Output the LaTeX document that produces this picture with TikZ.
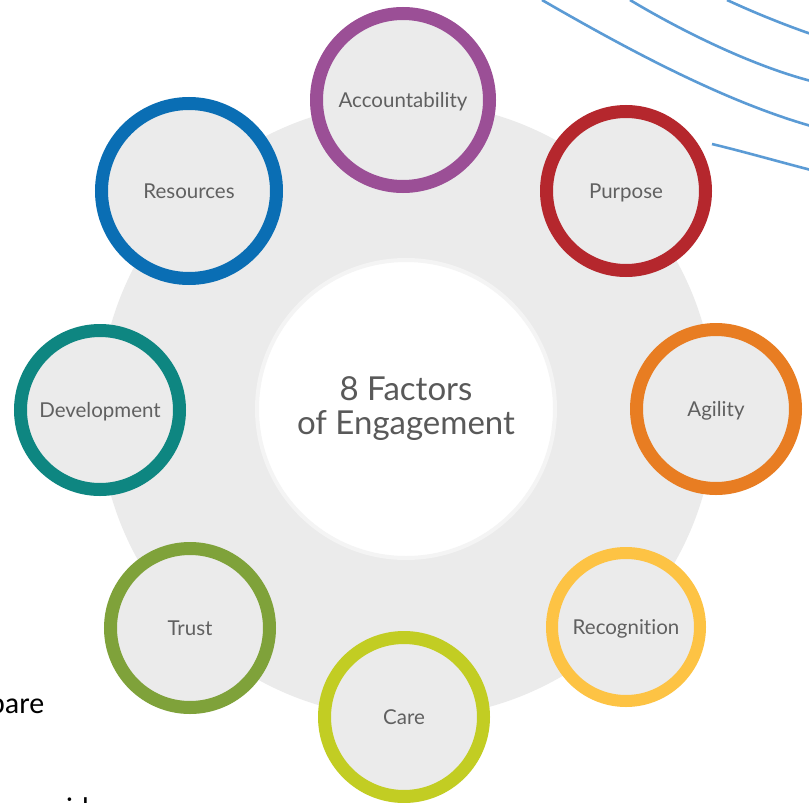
\documentclass[tikz,border=0pt]{standalone}
\usepackage{fontspec}
\newfontfamily\lato{Lato}[Ligatures=NoCommon]
\newfontfamily\carl{Carlito}
\newcommand\ringlbl[1]{\raisebox{-7.5pt}[0pt][0pt]{#1}}
\definecolor{discgrey}{HTML}{EBEBEB}
\definecolor{rimgrey}{HTML}{F4F4F4}
\definecolor{labelgrey}{HTML}{606060}
\definecolor{titlegrey}{HTML}{595959}
\definecolor{accpurple}{HTML}{9B4F96}
\definecolor{purred}{HTML}{B5272D}
\definecolor{agiorange}{HTML}{E87D22}
\definecolor{recyellow}{HTML}{FDC344}
\definecolor{carelime}{HTML}{C2CD23}
\definecolor{trustgreen}{HTML}{7FA23A}
\definecolor{devteal}{HTML}{0E8681}
\definecolor{resblue}{HTML}{0A6EB4}
\definecolor{lineblue}{HTML}{5B9BD5}
\tikzset{
  ring/.style={circle, line width=13pt, fill=discgrey, inner sep=0pt,
    font=\lato\fontsize{20.5}{24}\selectfont, text=labelgrey},
  bluearc/.style={draw=lineblue, line width=2.6pt},
  bodytext/.style={font=\carl\fontsize{30}{36}\selectfont, text=black, inner sep=0pt, anchor=base west}
}
\begin{document}
\begin{tikzpicture}[x=1pt,y=-1pt]
\useasboundingbox (0,0) rectangle (809,803);
\clip (0,0) rectangle (809,803);
\fill[white] (0,0) rectangle (809,803);
% big disc
\node[circle, fill=discgrey, minimum size=616pt, inner sep=0pt] (disc) at (407,410) {};
% centre
\node[circle, fill=white, draw=rimgrey, line width=4pt, minimum size=298pt, inner sep=0pt,
  align=center, font=\lato\fontsize{33}{34}\selectfont, text=titlegrey] (centre) at (406,409)
  {8 Factors\\of Engagement};
% rings
\node[ring, draw=accpurple, minimum size=173pt] (acc) at (403,100) {\ringlbl{Accountability}};
\node[ring, draw=purred, minimum size=159pt] (pur) at (626,191) {\ringlbl{Purpose}};
\node[ring, draw=agiorange, minimum size=159pt] (agi) at (716,409) {\ringlbl{Agility}};
\node[ring, draw=recyellow, line width=12pt, minimum size=148pt] (rec) at (626,627) {\ringlbl{Recognition}};
\node[ring, draw=carelime, minimum size=159pt] (care) at (404,717) {\ringlbl{Care}};
\node[ring, draw=trustgreen, minimum size=159pt] (trust) at (190,628) {\ringlbl{Trust}};
\node[ring, draw=devteal, minimum size=159pt] (dev) at (100,410) {\ringlbl{Development}};
\node[ring, draw=resblue, minimum size=175pt] (res) at (189,191) {\ringlbl{Resources}};
% blue arcs
\coordinate (a1) at (542,0);   \coordinate (b1) at (811,126);
\coordinate (a2) at (630,0);   \coordinate (b2) at (811,81);
\coordinate (a3) at (727,0);   \coordinate (b3) at (811,34);
\coordinate (a4) at (712,144); \coordinate (b4) at (811,170);
\draw[bluearc] (a1) .. controls (620,45) and (720,100) .. (b1);
\draw[bluearc] (a2) .. controls (680,30) and (750,65) .. (b2);
\draw[bluearc] (a3) .. controls (755,13) and (785,25) .. (b3);
\draw[bluearc] (a4) .. controls (745,152) and (780,162) .. (b4);
% stray text, cut off at the picture's edges as in the reference
\node[bodytext] (t1) at (-11,713) {pare};
\node[bodytext] (t2) at (66,818) {id};
\end{tikzpicture}
\end{document}
